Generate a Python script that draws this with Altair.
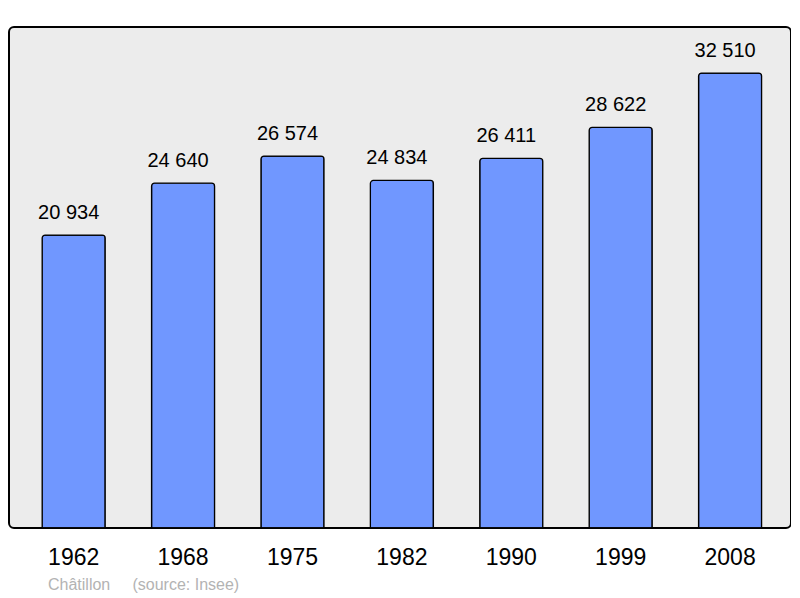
import altair as alt
import pandas as pd

years = ["1962", "1968", "1975", "1982", "1990", "1999", "2008"]
population = [20934, 24640, 26574, 24834, 26411, 28622, 32510]

df = pd.DataFrame({"year": years, "pop": population})

FONT = "Liberation Sans"

base = alt.Chart(df).encode(
    x=alt.X(
        "year:N",
        sort=None,
        scale=alt.Scale(paddingInner=0.424, paddingOuter=0.286, align=0.53),
        axis=alt.Axis(
            title=None,
            labelAngle=0,
            labelFontSize=23,
            labelFont=FONT,
            labelColor="black",
            labelPadding=18,
            ticks=False,
            domain=False,
        ),
    ),
    y=alt.Y("pop:Q", scale=alt.Scale(domain=[0, 35800], nice=False), axis=None),
)

bars = base.mark_bar(
    fill="#7097ff",
    stroke="black",
    strokeWidth=1.3,
    cornerRadiusTopLeft=3,
    cornerRadiusTopRight=3,
)

labels = base.transform_calculate(
    label="replace(format(datum.pop, ','), ',', ' ')"
).mark_text(
    baseline="alphabetic",
    dy=-16,
    dx=-5,
    fontSize=20,
    font=FONT,
    color="black",
).encode(text="label:N")

chart = (
    (bars + labels)
    .properties(
        width=782,
        height=501,
        padding={"left": 1, "top": 19, "right": 0, "bottom": 0},
        title=alt.TitleParams(
            "Châtillon\u00a0\u00a0\u00a0\u00a0\u00a0(source: Insee)",
            orient="bottom",
            anchor="start",
            dx=39,
            offset=8,
            fontSize=16,
            font=FONT,
            fontWeight="normal",
            color="#b3b3b3",
        ),
    )
    .configure_view(
        fill="#ececec",
        stroke="black",
        strokeWidth=2,
        cornerRadius=5,
    )
)

chart.save("out.html", embed_options={"renderer": "svg", "actions": False})
